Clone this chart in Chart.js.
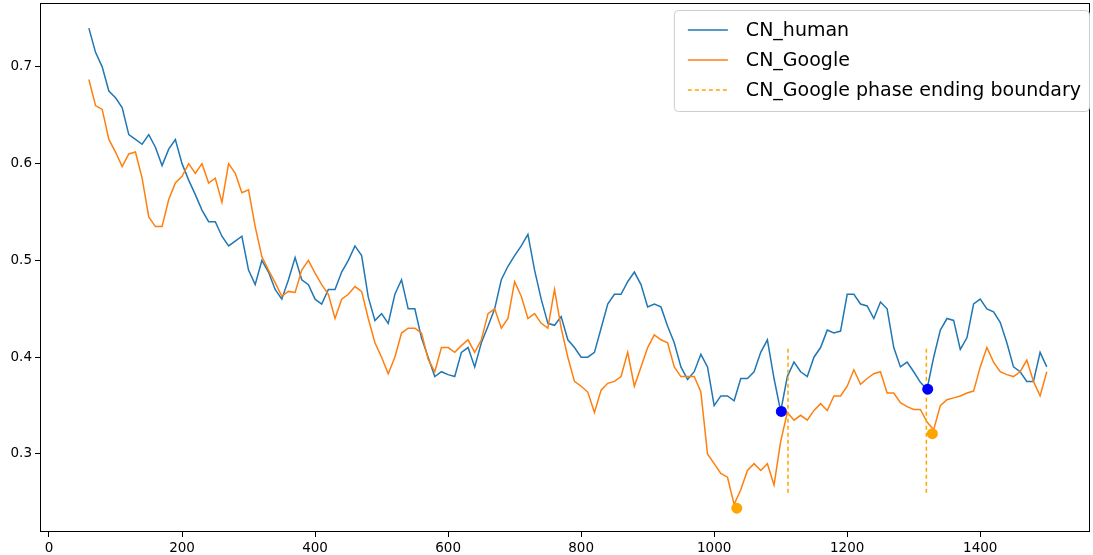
<!DOCTYPE html>
<html>
<head>
<meta charset="utf-8">
<script src="https://cdn.jsdelivr.net/npm/chart.js@4.4.1/dist/chart.umd.min.js"></script>
<style>
  html, body { margin: 0; padding: 0; background: #fff; }
</style>
</head>
<body>
<canvas id="chart" width="1093" height="555"></canvas>
<script>
// sample positions shared by both series
const steps = [
    60, 70, 80, 90, 100, 110, 120, 130, 140, 150,
    160, 170, 180, 190, 200, 210, 220, 230, 240, 250,
    260, 270, 280, 290, 300, 310, 320, 330, 340, 350,
    360, 370, 380, 390, 400, 410, 420, 430, 440, 450,
    460, 470, 480, 490, 500, 510, 520, 530, 540, 550,
    560, 570, 580, 590, 600, 610, 620, 630, 640, 650,
    660, 670, 680, 690, 700, 710, 720, 730, 740, 750,
    760, 770, 780, 790, 800, 810, 820, 830, 840, 850,
    860, 870, 880, 890, 900, 910, 920, 930, 940, 950,
    960, 970, 980, 990, 1000, 1010, 1020, 1030, 1040, 1050,
    1060, 1070, 1080, 1090, 1100, 1110, 1120, 1130, 1140, 1150,
    1160, 1170, 1180, 1190, 1200, 1210, 1220, 1230, 1240, 1250,
    1260, 1270, 1280, 1290, 1300, 1310, 1320, 1330, 1340, 1350,
    1360, 1370, 1380, 1390, 1400, 1410, 1420, 1430, 1440, 1450,
    1460, 1470, 1480, 1490, 1500
];

const humanScores = [
    0.740, 0.715, 0.700, 0.675, 0.668, 0.658, 0.630, 0.625, 0.620, 0.630,
    0.617, 0.598, 0.615, 0.625, 0.600, 0.583, 0.568, 0.552, 0.540, 0.540,
    0.525, 0.515, 0.520, 0.525, 0.490, 0.475, 0.500, 0.488, 0.470, 0.460,
    0.480, 0.503, 0.480, 0.475, 0.460, 0.455, 0.470, 0.470, 0.488, 0.500,
    0.515, 0.505, 0.462, 0.438, 0.445, 0.435, 0.465, 0.480, 0.450, 0.450,
    0.420, 0.400, 0.380, 0.385, 0.382, 0.380, 0.405, 0.410, 0.390, 0.415,
    0.432, 0.450, 0.480, 0.494, 0.505, 0.515, 0.527, 0.490, 0.460, 0.435,
    0.433, 0.442, 0.418, 0.410, 0.400, 0.400, 0.405, 0.430, 0.455, 0.465,
    0.465, 0.478, 0.488, 0.475, 0.452, 0.455, 0.452, 0.432, 0.415, 0.390,
    0.377, 0.385, 0.403, 0.390, 0.350, 0.360, 0.360, 0.355, 0.378, 0.378,
    0.385, 0.405, 0.418, 0.378, 0.344, 0.380, 0.395, 0.385, 0.380, 0.400,
    0.410, 0.428, 0.425, 0.427, 0.465, 0.465, 0.455, 0.453, 0.440, 0.457,
    0.450, 0.410, 0.390, 0.395, 0.385, 0.374, 0.367, 0.400, 0.428, 0.440,
    0.438, 0.408, 0.420, 0.455, 0.460, 0.450, 0.447, 0.436, 0.415, 0.390,
    0.385, 0.375, 0.375, 0.405, 0.390
];

const googleScores = [
    0.687, 0.660, 0.656, 0.625, 0.612, 0.597, 0.610, 0.612, 0.585, 0.545,
    0.535, 0.535, 0.563, 0.580, 0.587, 0.600, 0.590, 0.600, 0.580, 0.585,
    0.560, 0.600, 0.590, 0.570, 0.573, 0.535, 0.504, 0.490, 0.477, 0.463,
    0.468, 0.467, 0.490, 0.500, 0.487, 0.475, 0.465, 0.440, 0.460, 0.465,
    0.473, 0.468, 0.440, 0.415, 0.400, 0.383, 0.400, 0.425, 0.430, 0.430,
    0.425, 0.398, 0.385, 0.410, 0.410, 0.405, 0.412, 0.418, 0.405, 0.418,
    0.445, 0.450, 0.430, 0.440, 0.478, 0.463, 0.440, 0.445, 0.435, 0.430,
    0.470, 0.430, 0.400, 0.375, 0.370, 0.364, 0.343, 0.366, 0.373, 0.375,
    0.380, 0.405, 0.370, 0.390, 0.410, 0.423, 0.418, 0.415, 0.390, 0.380,
    0.380, 0.380, 0.364, 0.300, 0.290, 0.280, 0.276, 0.248, 0.263, 0.283,
    0.290, 0.283, 0.290, 0.268, 0.313, 0.343, 0.335, 0.340, 0.335, 0.345,
    0.352, 0.345, 0.360, 0.360, 0.370, 0.387, 0.372, 0.378, 0.383, 0.385,
    0.363, 0.363, 0.353, 0.349, 0.346, 0.346, 0.333, 0.325, 0.350, 0.356,
    0.358, 0.360, 0.363, 0.365, 0.390, 0.410, 0.395, 0.385, 0.382, 0.380,
    0.385, 0.397, 0.375, 0.360, 0.385
];

// phase minima marked with dots
const humanDotX = [1101, 1321];
const humanDotY = [0.344, 0.367];
const googleDotX = [1034, 1328];
const googleDotY = [0.244, 0.321];

// vertical dashed phase boundaries
const boundaryX = [1111, 1319];
const boundaryLow = 0.26;
const boundaryHigh = 0.41;

const xTicks = [0, 200, 400, 600, 800, 1000, 1200, 1400];
const yTicks = [0.3, 0.4, 0.5, 0.6, 0.7];

const colors = { human: '#1f77b4', google: '#ff7f0e', boundary: '#ffa500', dotBlue: '#0000ff', dotOrange: '#ffa500' };

Chart.defaults.font.family = '"DejaVu Sans", sans-serif';
Chart.defaults.color = '#000';

function series(xs, ys) {
    return xs.map((x, i) => ({ x: x, y: ys[i] }));
}

function boundaryPoints() {
    const pts = [];
    boundaryX.forEach((x, i) => {
        if (i > 0) pts.push({ x: (boundaryX[i - 1] + x) / 2, y: null });
        pts.push({ x: x, y: boundaryLow }, { x: x, y: boundaryHigh });
    });
    return pts;
}

// keep the plot box fixed: no extra room for edge labels
function fixAxis(size) {
    return s => {
        if (s.isHorizontal()) s.height = size; else s.width = size;
        s.paddingTop = 0; s.paddingBottom = 0;
        s.paddingLeft = 0; s.paddingRight = 0;
    };
}

// full axes box like a plot frame
const frameBox = {
    id: 'frameBox',
    afterDraw(chart) {
        const { ctx, chartArea: a } = chart;
        ctx.save();
        ctx.strokeStyle = '#000';
        ctx.lineWidth = 1;
        ctx.strokeRect(Math.round(a.left) + 0.5, Math.round(a.top) + 0.5,
            Math.round(a.right - a.left) - 1, Math.round(a.bottom - a.top) - 1);
        ctx.restore();
    }
};

// legend drawn inside the plot, upper right
const legendBox = {
    id: 'legendBox',
    afterDraw(chart) {
        const { ctx, chartArea } = chart;
        const entries = chart.data.datasets.filter(d => d.inLegend);
        ctx.save();
        ctx.font = '19px "DejaVu Sans"';
        const padL = 14, sample = 40, gap = 18, padR = 8, rowH = 30, padY = 20;
        const textW = Math.max(...entries.map(e => ctx.measureText(e.label).width));
        const w = padL + sample + gap + textW + padR;
        const h = padY * 2 + rowH * (entries.length - 1) + 1;
        const x = chartArea.right - 1 - w;
        const y = chartArea.top + 7;

        ctx.beginPath();
        ctx.roundRect(x + 0.5, y + 0.5, w, h, 4);
        ctx.fillStyle = 'rgba(255,255,255,0.8)';
        ctx.fill();
        ctx.strokeStyle = '#cccccc';
        ctx.lineWidth = 1;
        ctx.stroke();

        entries.forEach((e, i) => {
            const cy = y + padY + rowH * i;
            ctx.beginPath();
            ctx.setLineDash(e.borderDash || []);
            ctx.strokeStyle = e.borderColor;
            ctx.lineWidth = e.borderWidth;
            ctx.moveTo(x + padL, cy);
            ctx.lineTo(x + padL + sample, cy);
            ctx.stroke();
            ctx.setLineDash([]);
            ctx.fillStyle = '#000';
            ctx.textBaseline = 'middle';
            ctx.fillText(e.label, x + padL + sample + gap, cy + 1);
        });
        ctx.restore();
    }
};

new Chart(document.getElementById('chart'), {
    type: 'line',
    data: {
        datasets: [
            {
                label: 'CN_human', inLegend: true, order: 4,
                data: series(steps, humanScores),
                borderColor: colors.human, borderWidth: 1.5,
                pointRadius: 0, tension: 0
            },
            {
                label: 'CN_Google', inLegend: true, order: 3,
                data: series(steps, googleScores),
                borderColor: colors.google, borderWidth: 1.5,
                pointRadius: 0, tension: 0
            },
            {
                label: 'CN_Google phase ending boundary', inLegend: true, order: 2,
                data: boundaryPoints(),
                borderColor: colors.boundary, borderWidth: 1.5, borderDash: [4, 3],
                pointRadius: 0, spanGaps: false
            },
            {
                label: 'human minima', order: 1, showLine: false,
                data: series(humanDotX, humanDotY),
                pointRadius: 5.5, pointBackgroundColor: colors.dotBlue,
                pointBorderColor: colors.dotBlue, pointBorderWidth: 0
            },
            {
                label: 'google minima', order: 0, showLine: false,
                data: series(googleDotX, googleDotY),
                pointRadius: 5.5, pointBackgroundColor: colors.dotOrange,
                pointBorderColor: colors.dotOrange, pointBorderWidth: 0
            }
        ]
    },
    options: {
        responsive: false,
        animation: false,
        layout: { autoPadding: false, padding: { top: 3, right: 3, left: 0, bottom: 0 } },
        plugins: { legend: { display: false }, tooltip: { enabled: false } },
        scales: {
            x: {
                type: 'linear', min: -13.5, max: 1565,
                afterBuildTicks: s => { s.ticks = xTicks.map(v => ({ value: v })); },
                afterFit: fixAxis(23),
                grid: { drawOnChartArea: false, drawTicks: true, tickLength: 5, color: '#000' },
                border: { display: false },
                ticks: { font: { size: 13.5 }, padding: 3, maxRotation: 0, callback: v => String(v) }
            },
            y: {
                type: 'linear', min: 0.2194, max: 0.766,
                afterBuildTicks: s => { s.ticks = yTicks.map(v => ({ value: v })); },
                afterFit: fixAxis(40),
                grid: { drawOnChartArea: false, drawTicks: true, tickLength: 5, color: '#000' },
                border: { display: false },
                ticks: { font: { size: 13.5 }, padding: 3, callback: v => v.toFixed(1) }
            }
        }
    },
    plugins: [frameBox, legendBox]
});
</script>
</body>
</html>
